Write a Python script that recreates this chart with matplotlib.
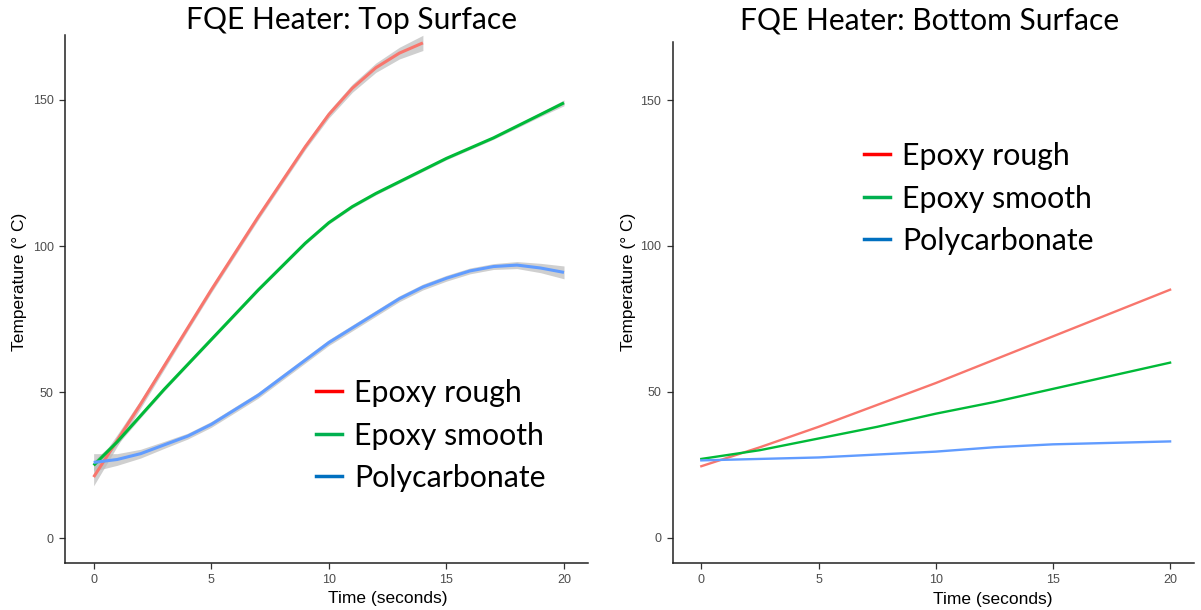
"""Two-panel FQE heater temperature curves (top vs bottom surface)."""
import matplotlib
matplotlib.use("Agg")
import matplotlib.pyplot as plt
from matplotlib.lines import Line2D
import numpy as np

# --- data ---------------------------------------------------------------
series_names = ["Epoxy rough", "Epoxy smooth", "Polycarbonate"]

# Top surface (smoothed fits with confidence band)
top_rough_t = [0, 1, 2, 3, 4, 5, 6, 7, 8, 9, 10, 11, 12, 13, 14]
top_rough_y = [21, 33.5, 46, 59, 72, 85, 97.5, 110, 122, 134, 145, 154, 161, 166, 169.5]
top_rough_se = [3.0, 2.0, 1.4, 1.2, 1.0, 1.0, 1.0, 1.0, 1.0, 1.0, 1.2, 1.4, 1.6, 2.0, 2.6]

top_smooth_t = list(range(0, 21))
top_smooth_y = [25, 33, 42, 51, 59.5, 68, 76.5, 85, 93, 101, 108, 113.5, 118, 122,
                126, 130, 133.5, 137, 141, 145, 149]
top_smooth_se = [1.6, 1.0, 0.7, 0.6, 0.5, 0.5, 0.5, 0.5, 0.5, 0.5, 0.5, 0.5,
                 0.5, 0.5, 0.5, 0.5, 0.5, 0.5, 0.6, 0.7, 1.0]

top_poly_t = list(range(0, 21))
top_poly_y = [26, 27, 29, 32, 35, 39, 44, 49, 55, 61, 67, 72, 77, 82,
              86, 89, 91.5, 93, 93.5, 92.5, 91]
top_poly_se = [3.0, 2.0, 1.5, 1.2, 1.0, 1.0, 1.0, 1.0, 1.0, 1.0, 1.0, 1.0,
               1.0, 1.0, 1.0, 1.0, 1.0, 1.0, 1.2, 1.6, 2.2]

# Bottom surface (raw lines)
bot_t = [0, 2.5, 5, 7.5, 10, 12.5, 15, 17.5, 20]
bot_rough_y = [24.5, 31, 38, 45.5, 53, 61, 69, 77, 85]
bot_smooth_y = [27, 30, 34, 38, 42.5, 46.5, 51, 55.5, 60]
bot_poly_y = [26.5, 27, 27.5, 28.5, 29.5, 31, 32, 32.5, 33]

# --- styling ------------------------------------------------------------
line_colors = ["#F8766D", "#00BA38", "#619CFF"]
legend_colors = ["#FF0000", "#00B050", "#0070C0"]
title_font = ["Lato", "DejaVu Sans"]
axis_font = ["Liberation Sans", "DejaVu Sans"]

W, H = 1201, 610
fig = plt.figure(figsize=(W / 100, H / 100), dpi=100)


def px_axes(left, right, top, bottom):
    return fig.add_axes([left / W, 1 - bottom / H, (right - left) / W, (bottom - top) / H])


ax_top = px_axes(64.7, 588, 35, 562.7)
ax_bot = px_axes(672.5, 1194, 41.7, 562.5)


def style_axes(ax, ylim, xlab_pos, ylab_pos):
    ax.set_xlim(-1.23, 21.02)
    ax.set_ylim(*ylim)
    ax.set_xticks([0, 5, 10, 15, 20])
    ax.set_yticks([0, 50, 100, 150])
    for side in ("top", "right"):
        ax.spines[side].set_visible(False)
    for side in ("left", "bottom"):
        ax.spines[side].set_linewidth(1.1)
        ax.spines[side].set_color("#222222")
    ax.tick_params(direction="out", length=4, width=0.9, color="#333333",
                   labelcolor="#4D4D4D", labelsize=9, pad=4)
    for lab in ax.get_xticklabels() + ax.get_yticklabels():
        lab.set_family(axis_font)
    ax.set_xlabel("Time (seconds)", family=axis_font, fontsize=12.5, va="center")
    ax.set_ylabel("Temperature (° C)", family=axis_font, fontsize=12.5, va="center")
    ax.xaxis.set_label_coords(*xlab_pos)
    ax.yaxis.set_label_coords(*ylab_pos)


# top surface panel
top_sets = [
    (top_rough_t, top_rough_y, top_rough_se),
    (top_smooth_t, top_smooth_y, top_smooth_se),
    (top_poly_t, top_poly_y, top_poly_se),
]
for (t, y, se), c in zip(top_sets, line_colors):
    t = np.array(t, dtype=float)
    y = np.array(y, dtype=float)
    se = np.array(se, dtype=float)
    ax_top.fill_between(t, y - se, y + se, color="#BBBBBB", alpha=0.7, lw=0)
    ax_top.plot(t, y, color=c, lw=2.2, solid_capstyle="butt")
style_axes(ax_top, (-8.3, 172.2), (0.618, -0.067), (-0.086, 0.532))

# bottom surface panel
for y, c in zip([bot_rough_y, bot_smooth_y, bot_poly_y], line_colors):
    ax_bot.plot(bot_t, y, color=c, lw=1.7)
style_axes(ax_bot, (-8.5, 170), (0.615, -0.072), (-0.085, 0.539))

# titles and legends (slide-style text)
fig.text(351 / W, 1 - 20 / H, "FQE Heater: Top Surface", ha="center", va="center",
         family=title_font, fontsize=21.6)
fig.text(930 / W, 1 - 20 / H, "FQE Heater: Bottom Surface", ha="center", va="center",
         family=title_font, fontsize=21.6)

handles = [Line2D([], [], color=c, lw=2.5) for c in legend_colors]
for ax, (lx, ly) in [(ax_top, (316, 379)), (ax_bot, (864, 142))]:
    ax.legend(handles, series_names, loc="upper left",
              bbox_to_anchor=(lx / W, 1 - ly / H), bbox_transform=fig.transFigure,
              frameon=False, borderpad=0, borderaxespad=0, handlelength=0.85,
              handletextpad=0.4, labelspacing=0.48,
              prop={"family": title_font, "size": 21.8})

fig.savefig("out.png", dpi=100)
